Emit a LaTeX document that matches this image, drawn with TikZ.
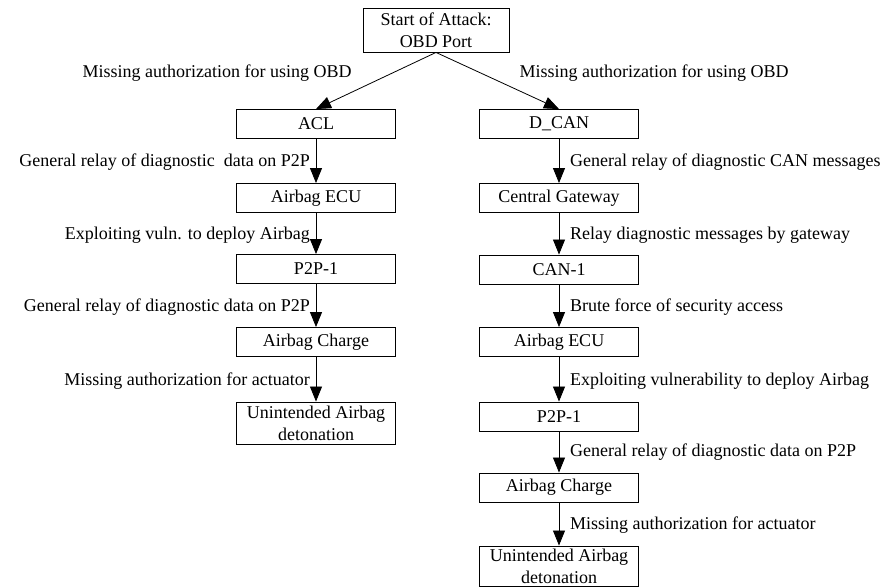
\documentclass[tikz,border=0pt]{standalone}
\usepackage{fontspec}
\setmainfont{Liberation Serif}
\usetikzlibrary{arrows.meta,positioning}
\tikzset{
  stage/.style={draw=black, line width=0.9pt, minimum width=159pt, minimum height=29pt,
                inner sep=2pt, align=center, font=\fontsize{18}{22}\selectfont},
  stagetwo/.style={stage, minimum height=42pt},
  atk/.style={-{Triangle[length=15pt,width=12pt]}, black, line width=0.8pt},
  lblL/.style={anchor=east, inner sep=1pt, font=\fontsize{18}{22}\selectfont},
  lblR/.style={anchor=west, inner sep=1pt, font=\fontsize{18}{22}\selectfont},
  lblT/.style={inner sep=1pt, font=\fontsize{18}{22}\selectfont},
}
\begin{document}
\begin{tikzpicture}[x=1pt, y=-1pt]
  \useasboundingbox (0,0) rectangle (891,588);
  % entry point
  \node[stage, minimum width=146pt, minimum height=44pt] (start) at (436,30) {Start of Attack:\\OBD Port};
  % left path
  \node[stage] (acl) at (316,124) {ACL};
  \node[stage] (airL) at (316,198) {Airbag ECU};
  \node[stage] (p2pL) at (316,269) {P2P-1};
  \node[stage] (chgL) at (316,342) {Airbag Charge};
  \node[stagetwo] (detL) at (316,423) {Unintended Airbag\\detonation};
  % right path
  \node[stage] (dcan) at (559,124) {D\_CAN};
  \node[stage] (gw) at (559,198) {Central Gateway};
  \node[stage] (can1) at (559,269.5) {CAN-1};
  \node[stage] (airR) at (559,342) {Airbag ECU};
  \node[stage] (p2pR) at (559,416.5) {P2P-1};
  \node[stage] (chgR) at (559,487.5) {Airbag Charge};
  \node[stagetwo, minimum height=40pt] (detR) at (559,566) {Unintended Airbag\\detonation};

  \draw[atk] (start.south) -- (acl.north);
  \draw[atk] (start.south) -- (dcan.north);
  \node[lblT] (tL) at (217,73) {Missing authorization for using OBD};
  \node[lblT] (tR) at (654,73) {Missing authorization for using OBD};

  \draw[atk] (acl) -- (airL);
  \draw[atk] (airL) -- (p2pL);
  \draw[atk] (p2pL) -- (chgL);
  \draw[atk] (chgL) -- (detL);
  \node[lblL] (l1) at (311,162) {General relay of diagnostic\ \ data on P2P};
  \node[lblL] (l2) at (311,235) {Exploiting vuln. to deploy Airbag};
  \node[lblL] (l3) at (311,307) {General relay of diagnostic data on P2P};
  \node[lblL] (l4) at (311,381) {Missing authorization for actuator};

  \draw[atk] (dcan) -- (gw);
  \draw[atk] (gw) -- (can1);
  \draw[atk] (can1) -- (airR);
  \draw[atk] (airR) -- (p2pR);
  \draw[atk] (p2pR) -- (chgR);
  \draw[atk] (chgR) -- (detR);
  \node[lblR] (r1) at (569,162) {General relay of diagnostic CAN messages};
  \node[lblR] (r2) at (569,235) {Relay diagnostic messages by gateway};
  \node[lblR] (r3) at (569,307) {Brute force of security access};
  \node[lblR] (r4) at (569,381) {Exploiting vulnerability to deploy Airbag};
  \node[lblR] (r5) at (569,452) {General relay of diagnostic data on P2P};
  \node[lblR] (r6) at (569,525) {Missing authorization for actuator};
\end{tikzpicture}
\end{document}
